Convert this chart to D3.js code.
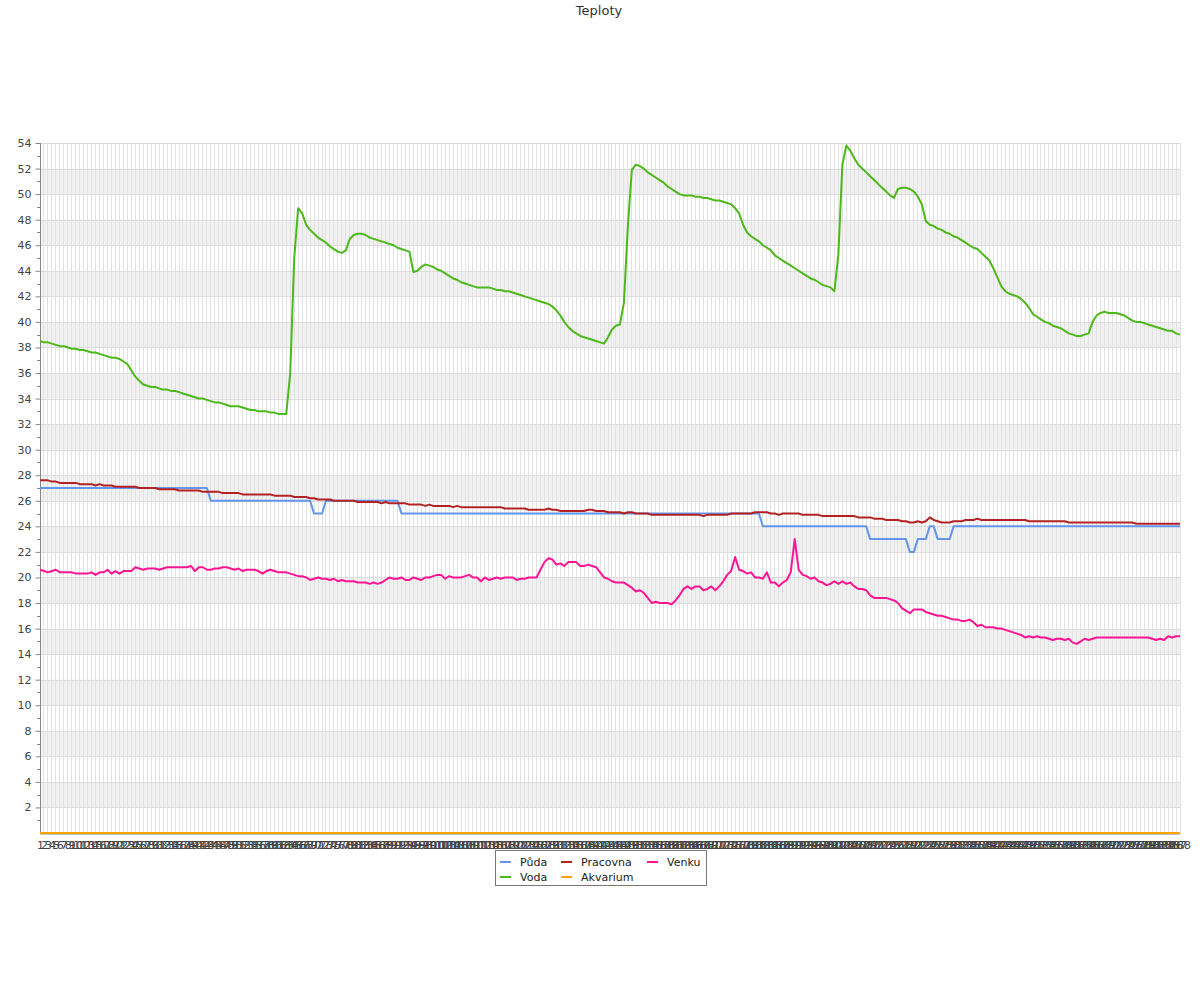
<!DOCTYPE html>
<html><head><meta charset="utf-8">
<script src="https://cdn.jsdelivr.net/npm/d3@7"></script>
<style>
body{margin:0;background:#fff;}
svg{display:block;font-family:"DejaVu Sans",sans-serif;}
</style></head><body>
<svg id="chart" width="1200" height="1000"></svg>
<script>
const title = "Teploty";
const categories = Array.from({length: 288}, (_, i) => String(i + 1));
const yTicks = [2,4,6,8,10,12,14,16,18,20,22,24,26,28,30,32,34,36,38,40,42,44,46,48,50,52,54];
const seriesNames = ["Půda","Voda","Pracovna","Akvarium","Venku"];
const seriesColors = ["#6495ed","#4cb81a","#b22222","#ffa500","#ff1493"];

const puda = [
27,27,27,27,27,27,27,27,27,27,27,27,27,27,27,27,27,27,27,27,
27,27,27,27,27,27,27,27,27,27,27,27,27,27,27,27,27,27,27,27,
27,27,27,26,26,26,26,26,26,26,26,26,26,26,26,26,26,26,26,26,
26,26,26,26,26,26,26,26,26,25,25,25,26,26,26,26,26,26,26,26,
26,26,26,26,26,26,26,26,26,26,26,25,25,25,25,25,25,25,25,25,
25,25,25,25,25,25,25,25,25,25,25,25,25,25,25,25,25,25,25,25,
25,25,25,25,25,25,25,25,25,25,25,25,25,25,25,25,25,25,25,25,
25,25,25,25,25,25,25,25,25,25,25,25,25,25,25,25,25,25,25,25,
25,25,25,25,25,25,25,25,25,25,25,25,25,25,25,25,25,25,25,25,
25,25,24,24,24,24,24,24,24,24,24,24,24,24,24,24,24,24,24,24,
24,24,24,24,24,24,24,24,24,23,23,23,23,23,23,23,23,23,23,22,
22,23,23,23,24,24,23,23,23,23,24,24,24,24,24,24,24,24,24,24,
24,24,24,24,24,24,24,24,24,24,24,24,24,24,24,24,24,24,24,24,
24,24,24,24,24,24,24,24,24,24,24,24,24,24,24,24,24,24,24,24,
24,24,24,24,24,24,24,24];

const voda = [
38.5,38.4,38.4,38.3,38.2,38.1,38.1,38.0,37.9,37.9,37.8,37.8,37.7,37.6,37.6,37.5,37.4,37.3,37.2,37.2,
37.1,36.9,36.7,36.2,35.7,35.4,35.1,35.0,34.9,34.9,34.8,34.7,34.7,34.6,34.6,34.5,34.4,34.3,34.2,34.1,
34.0,34.0,33.9,33.8,33.7,33.7,33.6,33.5,33.4,33.4,33.4,33.3,33.2,33.1,33.1,33.0,33.0,33.0,32.9,32.9,
32.8,32.8,32.8,36.0,45.0,48.9,48.5,47.6,47.2,46.9,46.6,46.4,46.2,45.9,45.7,45.5,45.4,45.6,46.5,46.8,
46.9,46.9,46.8,46.6,46.5,46.4,46.3,46.2,46.1,46.0,45.8,45.7,45.6,45.5,43.9,44.0,44.3,44.5,44.4,44.3,
44.1,44.0,43.8,43.6,43.4,43.3,43.1,43.0,42.9,42.8,42.7,42.7,42.7,42.7,42.6,42.5,42.5,42.4,42.4,42.3,
42.2,42.1,42.0,41.9,41.8,41.7,41.6,41.5,41.4,41.2,40.9,40.5,40.0,39.6,39.3,39.1,38.9,38.8,38.7,38.6,
38.5,38.4,38.3,38.8,39.4,39.7,39.8,41.5,47.5,51.9,52.3,52.2,52.0,51.7,51.5,51.3,51.1,50.9,50.6,50.4,
50.2,50.0,49.9,49.9,49.9,49.8,49.8,49.7,49.7,49.6,49.5,49.5,49.4,49.3,49.2,48.9,48.5,47.6,47.0,46.7,
46.5,46.3,46.0,45.8,45.6,45.2,45.0,44.8,44.6,44.4,44.2,44.0,43.8,43.6,43.4,43.3,43.1,42.9,42.8,42.7,
42.4,45.3,52.3,53.8,53.4,52.8,52.3,52.0,51.7,51.4,51.1,50.8,50.5,50.2,49.9,49.7,50.4,50.5,50.5,50.4,
50.2,49.8,49.2,47.9,47.6,47.5,47.3,47.2,47.0,46.9,46.7,46.6,46.4,46.2,46.0,45.8,45.7,45.4,45.1,44.8,
44.2,43.5,42.8,42.4,42.2,42.1,42.0,41.8,41.5,41.1,40.6,40.4,40.2,40.0,39.9,39.7,39.6,39.5,39.3,39.1,
39.0,38.9,38.9,39.0,39.1,40.0,40.5,40.7,40.8,40.7,40.7,40.7,40.6,40.5,40.3,40.1,40.0,40.0,39.9,39.8,
39.7,39.6,39.5,39.4,39.3,39.3,39.1,39.0];

const pracovna = [
27.6,27.6,27.6,27.5,27.5,27.4,27.4,27.4,27.4,27.4,27.3,27.3,27.3,27.3,27.2,27.3,27.2,27.2,27.2,27.1,
27.1,27.1,27.1,27.1,27.1,27.0,27.0,27.0,27.0,27.0,26.9,26.9,26.9,26.9,26.9,26.8,26.8,26.8,26.8,26.8,
26.8,26.7,26.7,26.7,26.7,26.7,26.6,26.6,26.6,26.6,26.6,26.5,26.5,26.5,26.5,26.5,26.5,26.5,26.5,26.4,
26.4,26.4,26.4,26.4,26.3,26.3,26.3,26.3,26.2,26.2,26.1,26.1,26.1,26.1,26.0,26.0,26.0,26.0,26.0,26.0,
25.9,25.9,25.9,25.9,25.9,25.9,25.8,25.9,25.8,25.8,25.8,25.8,25.8,25.7,25.7,25.7,25.7,25.6,25.7,25.6,
25.6,25.6,25.6,25.6,25.5,25.6,25.5,25.5,25.5,25.5,25.5,25.5,25.5,25.5,25.5,25.5,25.5,25.4,25.4,25.4,
25.4,25.4,25.4,25.3,25.3,25.3,25.3,25.3,25.4,25.3,25.3,25.2,25.2,25.2,25.2,25.2,25.2,25.2,25.3,25.3,
25.2,25.2,25.2,25.1,25.1,25.1,25.1,25.0,25.1,25.1,25.0,25.0,25.0,25.0,24.9,24.9,24.9,24.9,24.9,24.9,
24.9,24.9,24.9,24.9,24.9,24.9,24.9,24.8,24.9,24.9,24.9,24.9,24.9,24.9,25.0,25.0,25.0,25.0,25.0,25.0,
25.1,25.1,25.1,25.1,25.0,25.0,24.9,25.0,25.0,25.0,25.0,25.0,24.9,24.9,24.9,24.9,24.9,24.8,24.8,24.8,
24.8,24.8,24.8,24.8,24.8,24.8,24.7,24.7,24.7,24.7,24.6,24.6,24.6,24.5,24.5,24.5,24.5,24.4,24.4,24.3,
24.3,24.4,24.3,24.4,24.7,24.5,24.4,24.3,24.3,24.3,24.4,24.4,24.4,24.5,24.5,24.5,24.6,24.5,24.5,24.5,
24.5,24.5,24.5,24.5,24.5,24.5,24.5,24.5,24.5,24.4,24.4,24.4,24.4,24.4,24.4,24.4,24.4,24.4,24.4,24.3,
24.3,24.3,24.3,24.3,24.3,24.3,24.3,24.3,24.3,24.3,24.3,24.3,24.3,24.3,24.3,24.3,24.2,24.2,24.2,24.2,
24.2,24.2,24.2,24.2,24.2,24.2,24.2,24.2];

const akvarium = [
0,0,0,0,0,0,0,0,0,0,0,0,0,0,0,0,0,0,0,0,0,0,0,0,0,0,0,0,0,0,0,0,0,0,0,0,0,0,0,0,
0,0,0,0,0,0,0,0,0,0,0,0,0,0,0,0,0,0,0,0,0,0,0,0,0,0,0,0,0,0,0,0,0,0,0,0,0,0,0,0,
0,0,0,0,0,0,0,0,0,0,0,0,0,0,0,0,0,0,0,0,0,0,0,0,0,0,0,0,0,0,0,0,0,0,0,0,0,0,0,0,
0,0,0,0,0,0,0,0,0,0,0,0,0,0,0,0,0,0,0,0,0,0,0,0,0,0,0,0,0,0,0,0,0,0,0,0,0,0,0,0,
0,0,0,0,0,0,0,0,0,0,0,0,0,0,0,0,0,0,0,0,0,0,0,0,0,0,0,0,0,0,0,0,0,0,0,0,0,0,0,0,
0,0,0,0,0,0,0,0,0,0,0,0,0,0,0,0,0,0,0,0,0,0,0,0,0,0,0,0,0,0,0,0,0,0,0,0,0,0,0,0,
0,0,0,0,0,0,0,0,0,0,0,0,0,0,0,0,0,0,0,0,0,0,0,0,0,0,0,0,0,0,0,0,0,0,0,0,0,0,0,0,
0,0,0,0,0,0,0,0];

const venku = [
20.6,20.5,20.4,20.5,20.6,20.4,20.4,20.4,20.4,20.3,20.3,20.3,20.3,20.4,20.2,20.4,20.4,20.6,20.3,20.5,
20.3,20.5,20.5,20.5,20.8,20.7,20.6,20.7,20.7,20.7,20.6,20.7,20.8,20.8,20.8,20.8,20.8,20.8,20.9,20.5,
20.8,20.8,20.6,20.6,20.7,20.7,20.8,20.8,20.7,20.6,20.7,20.5,20.6,20.6,20.6,20.5,20.3,20.5,20.6,20.5,
20.4,20.4,20.4,20.3,20.2,20.1,20.1,20.0,19.8,19.9,20.0,19.9,19.9,19.8,19.9,19.7,19.8,19.7,19.7,19.7,
19.6,19.6,19.6,19.5,19.6,19.5,19.6,19.8,20.0,19.9,19.9,20.0,19.8,19.8,20.0,19.9,19.8,20.0,20.0,20.1,
20.2,20.2,19.9,20.1,20.0,20.0,20.0,20.1,20.2,20.0,20.0,19.7,20.0,19.8,19.9,20.0,19.9,20.0,20.0,20.0,
19.8,19.9,19.9,20.0,20.0,20.0,20.6,21.2,21.5,21.4,21.0,21.1,20.9,21.2,21.2,21.2,20.9,20.9,21.0,20.9,
20.8,20.4,20.0,19.9,19.7,19.6,19.6,19.6,19.4,19.2,18.9,19.0,18.8,18.4,18.0,18.1,18.0,18.0,18.0,17.9,
18.2,18.6,19.1,19.3,19.1,19.3,19.3,19.0,19.1,19.3,19.0,19.3,19.7,20.2,20.5,21.6,20.6,20.5,20.3,20.4,
20.0,20.0,19.9,20.4,19.6,19.6,19.3,19.6,19.8,20.4,23.0,20.6,20.2,20.1,19.9,20.0,19.7,19.6,19.4,19.5,
19.7,19.5,19.7,19.5,19.6,19.3,19.1,19.1,19.0,18.6,18.4,18.4,18.4,18.4,18.3,18.2,18.0,17.6,17.4,17.2,
17.5,17.5,17.5,17.3,17.2,17.1,17.0,17.0,16.9,16.8,16.7,16.7,16.6,16.6,16.7,16.5,16.2,16.3,16.1,16.1,
16.1,16.0,16.0,15.9,15.8,15.7,15.6,15.5,15.3,15.4,15.3,15.4,15.3,15.3,15.2,15.1,15.2,15.2,15.1,15.2,
14.9,14.8,15.0,15.2,15.1,15.2,15.3,15.3,15.3,15.3,15.3,15.3,15.3,15.3,15.3,15.3,15.3,15.3,15.3,15.3,
15.2,15.1,15.2,15.1,15.4,15.3,15.4,15.4];

const seriesData = [puda, voda, pracovna, akvarium, venku];

const W = 1200, H = 1000;
const m = {left: 40, right: 1180, top: 143, bottom: 833};
const svg = d3.select("#chart");

const x = d3.scalePoint().domain(categories).range([m.left, m.right]).padding(0);
const y = d3.scaleLinear().domain([0, 54]).range([m.bottom, m.top]);

// bands between 2-4, 6-8, ..., 50-52
const bandStarts = yTicks.filter(v => v % 4 === 2 && v < 54);
svg.append("g").selectAll("rect").data(bandStarts).join("rect")
  .attr("x", m.left).attr("width", m.right - m.left)
  .attr("y", d => y(d + 2)).attr("height", d => y(d) - y(d + 2))
  .attr("fill", "#f1f1f1");

// vertical grid
svg.append("g").selectAll("line").data(categories).join("line")
  .attr("x1", d => x(d)).attr("x2", d => x(d))
  .attr("y1", m.top).attr("y2", m.bottom)
  .attr("stroke", "#e2e2e2").attr("stroke-width", 1).attr("shape-rendering", "crispEdges");

// horizontal grid
svg.append("g").selectAll("line").data(yTicks).join("line")
  .attr("x1", m.left).attr("x2", m.right)
  .attr("y1", d => Math.round(y(d)) + 0.5).attr("y2", d => Math.round(y(d)) + 0.5)
  .attr("stroke", "#dcdcdc").attr("stroke-width", 1);

// y axis
const yAxis = d3.axisLeft(y).tickValues(yTicks).tickSize(5).tickPadding(4).tickFormat(d3.format("d"));
const gy = svg.append("g").attr("transform", `translate(${m.left + 0.5},0)`).call(yAxis);
gy.select(".domain").attr("stroke", "#888").attr("d", `M0,${m.top}V${m.bottom}`);
gy.selectAll(".tick line").attr("stroke", "#888");
gy.selectAll(".tick text").attr("fill", "#444").style("font-size", "11px").style("font-family", "DejaVu Sans");
// minor ticks
const minor = d3.range(1, 54, 2);
svg.append("g").selectAll("line").data(minor).join("line")
  .attr("x1", m.left - 3).attr("x2", m.left)
  .attr("y1", d => Math.round(y(d)) + 0.5).attr("y2", d => Math.round(y(d)) + 0.5)
  .attr("stroke", "#888");

// x axis
const xAxis = d3.axisBottom(x).tickSize(0).tickPadding(8);
const gx = svg.append("g").attr("transform", `translate(0,${m.bottom + 0.5})`).call(xAxis);
gx.select(".domain").attr("stroke", "#888");
gx.selectAll(".tick text").attr("fill", "#444").style("font-size", "11px").style("font-family", "DejaVu Sans");

// lines
const line = d3.line().x((d, i) => x(categories[i])).y(d => y(d));
svg.append("g").selectAll("path").data(seriesData).join("path")
  .attr("d", d => line(d))
  .attr("fill", "none")
  .attr("stroke", (d, i) => seriesColors[i])
  .attr("stroke-width", 2)
  .attr("stroke-linejoin", "round");

// title
svg.append("text").attr("x", 599).attr("y", 15).attr("text-anchor", "middle")
  .attr("fill", "#333").style("font-size", "13px").text(title);

// legend
const lg = svg.append("g");
lg.append("rect").attr("x", 495.5).attr("y", 850.5).attr("width", 211).attr("height", 35)
  .attr("fill", "#fff").attr("stroke", "#777");
const colX = [500, 561, 647];
const rowY = [862, 877];
seriesNames.forEach((name, i) => {
  const col = Math.floor(i / 2), row = i % 2;
  const gx0 = colX[col], gy0 = rowY[row];
  lg.append("line").attr("x1", gx0).attr("x2", gx0 + 11).attr("y1", gy0).attr("y2", gy0)
    .attr("stroke", seriesColors[i]).attr("stroke-width", 2);
  lg.append("text").attr("x", gx0 + 20).attr("y", gy0 + 4).attr("fill", "#222")
    .style("font-size", "11px").text(name);
});
</script>
</body></html>
